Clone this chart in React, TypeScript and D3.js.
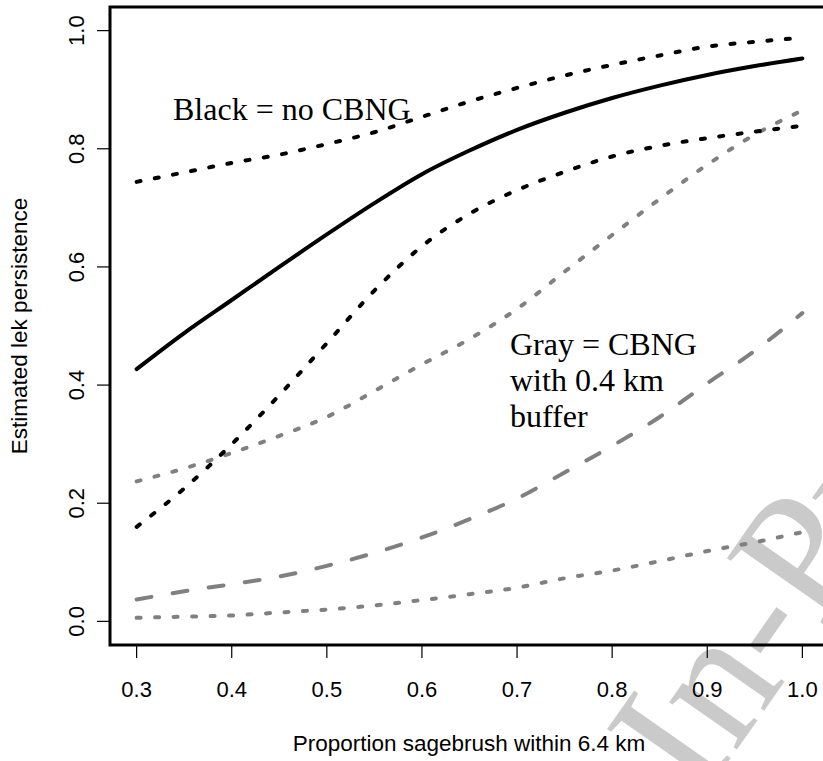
import React from "react";
import * as d3 from "d3";

const sagebrush = [0.3, 0.35, 0.4, 0.45, 0.5, 0.55, 0.6, 0.65, 0.7, 0.75, 0.8, 0.85, 0.9, 0.95, 1.0];

// No CBNG (black)
const noCbngMean = [0.427, 0.488, 0.544, 0.6, 0.655, 0.708, 0.757, 0.797, 0.832, 0.861, 0.886, 0.907, 0.925, 0.94, 0.953];
const noCbngUpper = [0.744, 0.76, 0.776, 0.79, 0.808, 0.828, 0.854, 0.88, 0.903, 0.924, 0.942, 0.958, 0.973, 0.981, 0.988];
const noCbngLower = [0.16, 0.225, 0.3, 0.383, 0.471, 0.56, 0.635, 0.69, 0.73, 0.761, 0.787, 0.805, 0.818, 0.829, 0.839];

// CBNG with 0.4 km buffer (gray)
const cbngMean = [0.037, 0.051, 0.063, 0.076, 0.094, 0.116, 0.142, 0.173, 0.208, 0.252, 0.297, 0.346, 0.403, 0.458, 0.522];
const cbngUpper = [0.237, 0.259, 0.285, 0.314, 0.346, 0.39, 0.435, 0.478, 0.529, 0.592, 0.654, 0.715, 0.773, 0.824, 0.865];
const cbngLower = [0.006, 0.008, 0.01, 0.015, 0.02, 0.027, 0.036, 0.046, 0.057, 0.073, 0.086, 0.102, 0.119, 0.134, 0.151];

const xTicks = [0.3, 0.4, 0.5, 0.6, 0.7, 0.8, 0.9, 1.0];
const yTicks = [0.0, 0.2, 0.4, 0.6, 0.8, 1.0];

const W = 823;
const H = 761;
const GRAY = "#808080";
const SANS = "'Liberation Sans', Arial, sans-serif";
const SERIF = "'Liberation Serif', 'Times New Roman', serif";

export default function App() {
  const x = d3.scaleLinear().domain([0.272, 1.028]).range([110, 829]);
  const y = d3.scaleLinear().domain([-0.04, 1.04]).range([645, 7]);
  const line = d3
    .line<number>()
    .x((_, i) => x(sagebrush[i]))
    .y((d) => y(d))
    .curve(d3.curveMonotoneX);

  const series = [
    { data: cbngLower, color: GRAY, dash: "4 14.5" },
    { data: cbngUpper, color: GRAY, dash: "4 14.5" },
    { data: cbngMean, color: GRAY, dash: "15 21.5" },
    { data: noCbngLower, color: "#000", dash: "4 14.5" },
    { data: noCbngUpper, color: "#000", dash: "4 14.5" },
    { data: noCbngMean, color: "#000", dash: undefined },
  ];

  return (
    <svg
      width={W}
      height={H}
      style={{ position: "absolute", left: 0, top: 0, background: "#fff" }}
    >
      <rect x={0} y={0} width={W} height={H} fill="#fff" />
      {/* watermark (behind) */}
      <text
        transform="translate(700,802) rotate(-55)"
        fontFamily={SERIF}
        fontSize={180}
        fill="#cacaca"
      >
        In-Press
      </text>
      {series.map((s, i) => (
        <path
          key={i}
          d={line(s.data) || ""}
          fill="none"
          stroke={s.color}
          strokeWidth={4}
          strokeDasharray={s.dash}
          strokeLinecap="round"
          strokeLinejoin="round"
        />
      ))}
      {/* plot box */}
      <rect x={110} y={7} width={719} height={638} fill="none" stroke="#000" strokeWidth={3} />
      {/* x axis */}
      {xTicks.map((t) => (
        <g key={"x" + t}>
          <line x1={x(t)} x2={x(t)} y1={645} y2={658} stroke="#000" strokeWidth={1.2} />
          <text
            x={x(t)}
            y={697}
            textAnchor="middle"
            fontFamily={SANS}
            fontSize={22}
            fill="#000"
          >
            {t.toFixed(1)}
          </text>
        </g>
      ))}
      {/* y axis */}
      {yTicks.map((t) => (
        <g key={"y" + t}>
          <line x1={97} x2={110} y1={y(t)} y2={y(t)} stroke="#000" strokeWidth={1.2} />
          <text
            transform={`translate(84,${y(t)}) rotate(-90)`}
            textAnchor="middle"
            fontFamily={SANS}
            fontSize={22}
            fill="#000"
          >
            {t.toFixed(1)}
          </text>
        </g>
      ))}
      <text x={469} y={751} textAnchor="middle" fontFamily={SANS} fontSize={22.5} fill="#000">
        Proportion sagebrush within 6.4 km
      </text>
      <text
        transform={`translate(27,326) rotate(-90)`}
        textAnchor="middle"
        fontFamily={SANS}
        fontSize={22.5}
        fill="#000"
      >
        Estimated lek persistence
      </text>
      {/* annotations */}
      <text x={173} y={120} fontFamily={SERIF} fontSize={32} fill="#000">
        Black = no CBNG
      </text>
      <text fontFamily={SERIF} fontSize={32} fill="#000">
        <tspan x={510} y={355}>Gray = CBNG</tspan>
        <tspan x={510} y={390.5}>with 0.4 km</tspan>
        <tspan x={510} y={426.5}>buffer</tspan>
      </text>
    </svg>
  );
}
